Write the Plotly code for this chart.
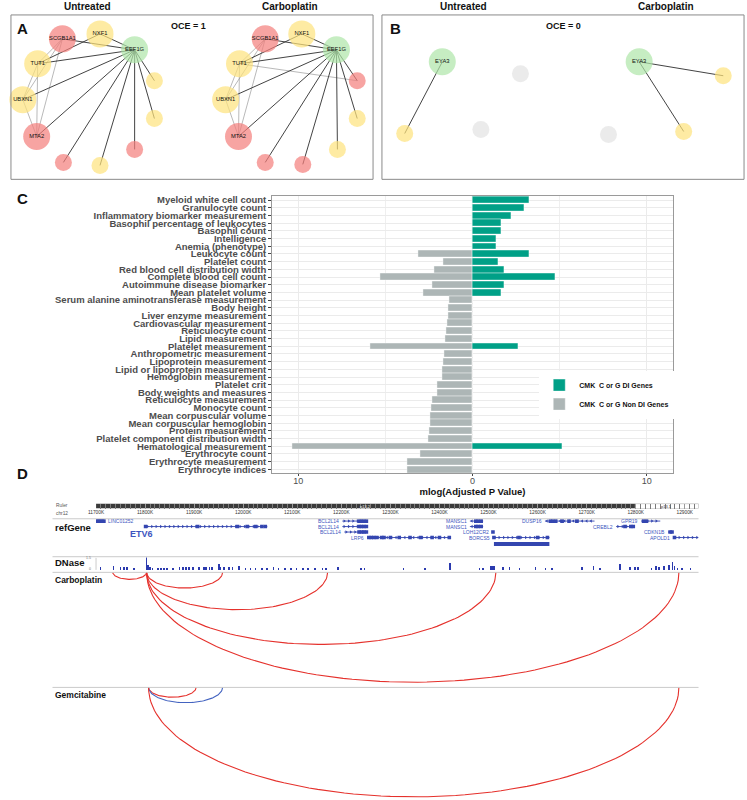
import numpy as np
import plotly.graph_objects as go

W, H = 747, 800
FONT = "Liberation Sans"


def fx(px):
    return px / W


def fy(py):
    return 1 - py / H


# ======================= DATA =======================
# ---- Panels A / B : networks (layout coordinates of nodes) ----
a_unt_labels = ["SCGB1A1", "NXF1", "EEF1G", "TUT1", "UBXN1", "MTA2", "", "", "", "", ""]
a_unt_group = ["red", "yellow", "green", "yellow", "yellow", "red", "yellow", "yellow", "red", "yellow", "red"]
a_unt_x = [55, 93, 128, 30, 15, 29, 148, 148, 128, 93, 56]
a_unt_y = [37, 32, 48, 62, 98, 135, 79, 117, 148, 164, 161]
a_unt_edges = [(2, 1), (2, 0), (2, 3), (2, 4), (2, 5), (2, 6), (2, 7), (2, 8), (2, 9), (2, 10), (3, 1)]
a_unt_weak = [(0, 3), (0, 4), (0, 5), (3, 4), (3, 5), (4, 5)]

a_carb_labels = ["SCGB1A1", "NXF1", "EEF1G", "TUT1", "UBXN1", "MTA2", "", "", "", "", ""]
a_carb_group = ["red", "yellow", "green", "yellow", "yellow", "red", "red", "yellow", "yellow", "red", "red"]
a_carb_x = [260, 297, 332, 234, 220, 233, 353, 353, 333, 298, 260]
a_carb_y = [37, 32, 48, 62, 98, 135, 79, 117, 148, 163, 161]
a_carb_edges = a_unt_edges
a_carb_weak = a_unt_weak + [(3, 6)]

b_unt_labels = ["EYA3", "", "", ""]
b_unt_group = ["green", "gray", "gray", "yellow"]
b_unt_x = [439, 518, 478, 401]
b_unt_y = [60, 72, 128, 132]
b_unt_edges = [(0, 3)]

b_carb_labels = ["EYA3", "", "", ""]
b_carb_group = ["green", "yellow", "yellow", "gray"]
b_carb_x = [638, 723, 683, 607]
b_carb_y = [60, 74, 130, 133]
b_carb_edges = [(0, 1), (0, 2)]

# ---- Panel C : trait enrichment ----
traits = [
    "Myeloid white cell count", "Granulocyte count", "Inflammatory biomarker measurement",
    "Basophil percentage of leukocytes", "Basophil count", "Intelligence", "Anemia (phenotype)",
    "Leukocyte count", "Platelet count", "Red blood cell distribution width",
    "Complete blood cell count", "Autoimmune disease biomarker", "Mean platelet volume",
    "Serum alanine aminotransferase measurement", "Body height", "Liver enzyme measurement",
    "Cardiovascular measurement", "Reticulocyte count", "Lipid measurement",
    "Platelet measurement", "Anthropometric measurement", "Lipoprotein measurement",
    "Lipid or lipoprotein measurement", "Hemoglobin measurement", "Platelet crit",
    "Body weights and measures", "Reticulocyte measurement", "Monocyte count",
    "Mean corpuscular volume", "Mean corpuscular hemoglobin", "Protein measurement",
    "Platelet component distribution width", "Hematological measurement",
    "Erythrocyte count", "Erythrocyte measurement", "Erythrocyte indices",
]
di_mlogp = [3.26, 2.97, 2.23, 1.67, 1.67, 1.35, 1.35, 3.26, 1.50, 1.80, 4.75, 1.80, 1.67,
            0, 0, 0, 0, 0, 0, 2.61, 0, 0, 0, 0, 0, 0, 0, 0, 0, 0, 0, 0, 5.13, 0, 0, 0]
nondi_mlogp = [0, 0, 0, 0, 0, 0, 0, 3.10, 1.69, 2.18, 5.30, 2.33, 2.84,
               1.33, 1.40, 1.40, 1.44, 1.53, 1.59, 5.89, 1.65, 1.67, 1.72, 1.72, 2.03,
               2.03, 2.33, 2.37, 2.41, 2.41, 2.46, 2.52, 10.36, 3.00, 3.77, 3.77]
c_xticks = [-10, 0, 10]
c_xticklabels = ["10", "0", "10"]

# ---- Panel D : genome browser (chr12, kb) ----
ruler_ticks = list(range(11700, 13000, 100))
ruler_labels = [f"{t}K" for t in ruler_ticks]
band_names = ["p13.2", "p13.1"]
band_start = [11700, 12799]
band_end = [12799, 12928]

gene_names = ["LINC01252", "ETV6", "BCL2L14", "BCL2L14", "BCL2L14", "LRP6", "MANSC1", "MANSC1",
              "LOH12CR2", "BORCS5", "DUSP16", "CREBL2", "GPR19", "CDKN1B", "APOLD1"]
gene_start = [11700, 11801, 12202, 12202, 12206, 12253, 12462, 12462, 12507, 12509, 12615, 12760, 12811, 12866, 12876]
gene_end = [11718, 12049, 12253, 12253, 12253, 12422, 12489, 12489, 12511, 12624, 12716, 12797, 12850, 12876, 12928]
gene_row = [0, 1, 0, 1, 2, 3, 0, 1, 2, 3, 0, 1, 0, 2, 3]
gene_strand = ["-", "+", "+", "+", "+", "-", "-", "-", "+", "+", "-", "+", "+", "+", "+"]
gene_exons = [
    [11701, 11704, 11707, 11710, 11713, 11716],
    [11801, 11907, 11988, 12008, 12025, 12038, 12045],
    [12236, 12241, 12246, 12251],
    [12236, 12241, 12246, 12251],
    [12236, 12241, 12246, 12251],
    [12256, 12261, 12266, 12272, 12282, 12287, 12300, 12318, 12340, 12362, 12385, 12400, 12420],
    [12474, 12479, 12485],
    [12474, 12479, 12485],
    [12509],
    [12511, 12562, 12600, 12620],
    [12626, 12631, 12637, 12650, 12664, 12680],
    [12778, 12790, 12795],
    [12816, 12822],
    [12870, 12874],
    [12879],
]
thick_start, thick_end = 12511, 12624

dnase_pos = [11709, 11736, 11750, 11757, 11763, 11777, 11803, 11806, 11810, 11815, 11826, 11833,
             11839, 11845, 11857, 11870, 11877, 11884, 11890, 11898, 11910, 11920, 11924, 11931,
             11937, 11951, 11954, 11961, 11971, 11978, 11991, 12005, 12015, 12025, 12038, 12048,
             12062, 12072, 12085, 12097, 12109, 12122, 12132, 12146, 12162, 12169, 12193, 12240,
             12247, 12327, 12371, 12421, 12482, 12489, 12505, 12509, 12512, 12529, 12543, 12563,
             12596, 12616, 12630, 12690, 12714, 12727, 12768, 12788, 12798, 12805, 12832, 12842,
             12848, 12858, 12868, 12875, 12879, 12885, 12895, 12912]
dnase_val = [0.35, 0.45, 0.35, 0.35, 0.3, 0.12, 1.45, 0.6, 0.35, 0.25, 0.25, 0.25,
             0.25, 0.25, 0.2, 0.35, 0.35, 0.35, 0.35, 0.35, 0.4, 0.4, 0.4, 0.35,
             0.4, 0.7, 0.35, 0.35, 0.35, 0.35, 0.45, 0.25, 0.25, 0.25, 0.25, 0.25,
             0.3, 0.25, 0.25, 0.25, 0.25, 0.2, 0.2, 0.2, 0.2, 0.2, 0.3, 0.25,
             0.25, 0.12, 0.12, 0.85, 0.25, 0.25, 0.45, 0.45, 0.45, 0.3, 0.3, 0.12,
             0.35, 0.25, 0.25, 0.35, 0.45, 0.18, 0.7, 0.35, 0.35, 0.35, 0.25, 0.45,
             0.35, 0.45, 0.6, 0.95, 0.45, 0.25, 0.18, 0.12]

carbo_arc_start = [11734, 11803, 11803, 11803, 11803]
carbo_arc_end = [11803, 11958, 12172, 12515, 12888]
carbo_arc_kind = ["red", "red", "red", "red", "red"]
gem_arc_start = [11807, 11807, 11807]
gem_arc_end = [11904, 11958, 12888]
gem_arc_kind = ["red", "blue", "red"]

# ======================= STYLE =======================
NODE_COL = {"red": "#F37D7B", "yellow": "#FDE27C", "green": "#AEE6A8", "gray": "#E3E3E3"}
ARC_COL = {"red": "#E5312C", "blue": "#4363C0"}
GREEN = "#00A087"
GRAY = "#ADB6B6"
GENE_BLUE = "#3446B0"

fig = go.Figure()


# ---------- networks ----------
def add_network(labels, groups, xs, ys, strong, weak):
    for edges, col, wd in ((weak, "#8a8a8a", 0.6), (strong, "#2e2e2e", 0.9)):
        ex, ey = [], []
        for i, j in edges:
            ex += [xs[i], xs[j], None]
            ey += [ys[i], ys[j], None]
        if ex:
            fig.add_trace(go.Scatter(x=ex, y=ey, mode="lines", line=dict(color=col, width=wd),
                                     xaxis="x", yaxis="y", showlegend=False, hoverinfo="skip"))
    fig.add_trace(go.Scatter(
        x=xs, y=ys, mode="markers+text", text=labels, textposition="middle center",
        textfont=dict(size=5.8, color="#111", family=FONT),
        marker=dict(size=[27 if l else 17 for l in labels], color=[NODE_COL[g] for g in groups],
                    line=dict(width=0)),
        xaxis="x", yaxis="y", showlegend=False, hoverinfo="skip"))


add_network(a_unt_labels, a_unt_group, a_unt_x, a_unt_y, a_unt_edges, a_unt_weak)
add_network(a_carb_labels, a_carb_group, a_carb_x, a_carb_y, a_carb_edges, a_carb_weak)
add_network(b_unt_labels, b_unt_group, b_unt_x, b_unt_y, b_unt_edges, [])
add_network(b_carb_labels, b_carb_group, b_carb_x, b_carb_y, b_carb_edges, [])

# ---------- panel C bars ----------
fig.add_trace(go.Bar(y=traits, x=di_mlogp, orientation="h", name="CMK\u00a0 C or G DI Genes",
                     marker=dict(color=GREEN, line=dict(color="white", width=0.4)), width=0.9,
                     xaxis="x2", yaxis="y2", hoverinfo="skip"))
fig.add_trace(go.Bar(y=traits, x=[-v for v in nondi_mlogp], orientation="h",
                     name="CMK\u00a0 C or G Non DI Genes",
                     marker=dict(color=GRAY, line=dict(color="white", width=0.4)), width=0.9,
                     xaxis="x2", yaxis="y2", hoverinfo="skip"))

# ---------- panel D ----------
fig.add_trace(go.Scatter(x=[band_start[0], band_end[-1]], y=[0.5, 0.5], mode="markers",
                         marker=dict(size=1, color="rgba(0,0,0,0)"), xaxis="x4", yaxis="y3",
                         showlegend=False, hoverinfo="skip"))

for name, s, e, r, st, ex in zip(gene_names, gene_start, gene_end, gene_row, gene_strand, gene_exons):
    fig.add_trace(go.Scatter(x=[s, e], y=[r, r], mode="lines", line=dict(color=GENE_BLUE, width=0.9),
                             xaxis="x3", yaxis="y4", showlegend=False, hoverinfo="skip"))
    if e - s > 12:
        cx = list(np.arange(s + 4, e - 2, 9))
        fig.add_trace(go.Scatter(x=cx, y=[r] * len(cx), mode="markers",
                                 marker=dict(symbol="triangle-right" if st == "+" else "triangle-left",
                                             size=3, color=GENE_BLUE),
                                 xaxis="x3", yaxis="y4", showlegend=False, hoverinfo="skip"))
    fig.add_trace(go.Scatter(x=ex, y=[r] * len(ex), mode="markers",
                             marker=dict(symbol="square", size=3.6, color=GENE_BLUE),
                             xaxis="x3", yaxis="y4", showlegend=False, hoverinfo="skip"))
fig.add_trace(go.Scatter(x=[thick_start, thick_end], y=[4.2, 4.2], mode="lines",
                         line=dict(color=GENE_BLUE, width=4), xaxis="x3", yaxis="y4",
                         showlegend=False, hoverinfo="skip"))

fig.add_trace(go.Bar(x=dnase_pos, y=dnase_val, width=1.3, marker=dict(color="#2B3AAE", line=dict(width=0)),
                     xaxis="x3", yaxis="y5", showlegend=False, hoverinfo="skip"))


def add_arcs(starts, ends, kinds, yax):
    t = np.linspace(0, np.pi, 90)
    for s, e, k in zip(starts, ends, kinds):
        c, a = (s + e) / 2, (e - s) / 2
        fig.add_trace(go.Scatter(x=c + a * np.cos(t), y=-0.41 * a * np.sin(t), mode="lines",
                                 line=dict(color=ARC_COL[k], width=1.1), xaxis="x3", yaxis=yax,
                                 showlegend=False, hoverinfo="skip"))


add_arcs(carbo_arc_start, carbo_arc_end, carbo_arc_kind, "y6")
add_arcs(gem_arc_start, gem_arc_end, gem_arc_kind, "y7")

# ======================= LAYOUT =======================
hidden = dict(visible=False, showgrid=False, zeroline=False)
gx0, gx1 = fx(89), fx(698)
grange = [11700, 12928]

layout = dict(
    width=W, height=H, autosize=False, margin=dict(l=0, r=0, t=0, b=0),
    paper_bgcolor="white", plot_bgcolor="rgba(0,0,0,0)",
    font=dict(family=FONT, color="#222"),
    barmode="overlay", bargap=0,
    xaxis=dict(domain=[0, 1], range=[0, W], anchor="y", **hidden),
    yaxis=dict(domain=[fy(182), 1], range=[182, 0], anchor="x", **hidden),
    xaxis2=dict(domain=[fx(267), fx(672)], anchor="y2", range=[-11.5, 11.5],
                tickmode="array", tickvals=c_xticks, ticktext=c_xticklabels,
                tickfont=dict(size=9, color="#4D4D4D"), ticks="outside", ticklen=2, tickcolor="#444",
                ticklabelstandoff=-3,
                showgrid=True, gridcolor="#EBEBEB", gridwidth=0.8,
                minor=dict(tickvals=[-5, 5], showgrid=True, gridcolor="#EFEFEF", gridwidth=0.5, ticks=""),
                zeroline=False, showline=True, mirror=True, linecolor="#9a9a9a", linewidth=1,
                title=dict(text="mlog(Adjusted P Value)", standoff=0,
                           font=dict(size=9.5, color="#111", weight="bold"))),
    yaxis2=dict(domain=[fy(473), fy(195)], anchor="x2", categoryorder="array", categoryarray=traits,
                tickmode="array", tickvals=traits, ticktext=traits,
                autorange="reversed", tickfont=dict(size=9.5, color="#4D4D4D", weight="bold"),
                ticks="outside", ticklen=3, tickcolor="#444", showgrid=True, gridcolor="#EBEBEB",
                gridwidth=0.8, zeroline=False, showline=True, mirror=True, linecolor="#9a9a9a",
                linewidth=1),
    xaxis3=dict(domain=[gx0, gx1], range=grange, anchor="y4", **hidden),
    xaxis4=dict(domain=[gx0, gx1], range=grange, anchor="y3", tickmode="array", tickvals=ruler_ticks,
                ticktext=ruler_labels, tickfont=dict(size=4.8, color="#333"), ticks="", ticklen=0,
                showgrid=True, gridcolor="#9a9a9a", gridwidth=0.8, zeroline=False, showline=False,
                minor=dict(tickmode="linear", tick0=11700, dtick=10, showgrid=True,
                           gridcolor="#7a7a7a", gridwidth=0.5)),
    yaxis3=dict(domain=[fy(508.5), fy(503.5)], range=[0, 1], anchor="x4", **hidden),
    yaxis4=dict(domain=[fy(548), fy(518)], range=[4.9, -0.55], anchor="x3", **hidden),
    yaxis5=dict(domain=[fy(570.5), fy(557.5)], range=[0, 1.5], anchor="x3", **hidden),
    yaxis6=dict(domain=[fy(688), fy(572.5)], range=[-233, 0], anchor="x3", **hidden),
    yaxis7=dict(domain=[0, fy(688)], range=[-226, 0], anchor="x3", **hidden),
    legend=dict(x=fx(537), y=fy(370), xanchor="left", yanchor="top", bgcolor="white",
                font=dict(size=7, color="#111", weight="bold"), tracegroupgap=0,
                borderwidth=0, itemclick=False),
)
fig.update_layout(**layout)

shapes = []
for x0, x1 in ((3, 369), (378, 744)):
    shapes.append(dict(type="rect", xref="paper", yref="paper", x0=fx(x0), x1=fx(x1), y0=fy(178), y1=fy(13),
                       line=dict(color="#8a8a8a", width=1), fillcolor="rgba(0,0,0,0)"))
shapes.append(dict(type="rect", xref="x4", yref="y3", x0=band_start[0], x1=band_end[0], y0=0, y1=1,
                   fillcolor="#3a3a3a", line=dict(width=0), layer="below"))
shapes.append(dict(type="rect", xref="x4", yref="y3", x0=band_start[1], x1=band_end[1], y0=0, y1=1,
                   fillcolor="white", line=dict(color="#999", width=0.8), layer="below"))
for yy in (518.7, 556.8, 572.5, 688):
    shapes.append(dict(type="line", xref="paper", yref="paper", x0=fx(45), x1=fx(698), y0=fy(yy), y1=fy(yy),
                       line=dict(color="#c4c4c4", width=0.9)))
shapes.append(dict(type="line", xref="paper", yref="paper", x0=fx(89), x1=fx(89), y0=fy(570), y1=fy(558),
                   line=dict(color="#aaa", width=0.6)))
fig.update_layout(shapes=shapes)

ann = []


def txt(x, y, s, size, bold=False, color="#111", xanchor="center"):
    ann.append(dict(x=fx(x), y=fy(y), xref="paper", yref="paper", text=s, showarrow=False,
                    xanchor=xanchor, yanchor="middle",
                    font=dict(size=size, color=color, family=FONT, weight="bold" if bold else "normal")))


txt(80, 5, "Untreated", 10, True)
txt(285, 5, "Carboplatin", 10, True)
txt(460, 5, "Untreated", 10, True)
txt(665, 5, "Carboplatin", 10, True)
txt(182, 24, "OCE = 1", 9, True)
txt(562, 24, "OCE = 0", 9, True)
txt(15, 27, "A", 15, True)
txt(392, 27, "B", 15, True)
txt(15, 197, "C", 15, True)
txt(15, 473, "D", 15, True)
txt(46, 505, "Ruler", 4.8, False, "#555", "left")
txt(46, 513, "chr12", 4.8, False, "#555", "left")
txt(45, 527, "refGene", 9.5, True, "#111", "left")
txt(45, 563, "DNase", 9.5, True, "#111", "left")
txt(45, 580, "Carboplatin", 8.5, True, "#111", "left")
txt(45, 696, "Gemcitabine", 8.5, True, "#111", "left")
txt(86, 558.5, "1.5", 3.5, False, "#777", "right")
txt(86, 569, "0", 3.5, False, "#777", "right")
fig.update_layout(annotations=ann)

fig.add_annotation(x=12250, y=0.5, xref="x4", yref="y3", text=band_names[0], showarrow=False,
                   font=dict(size=4, color="#eee", family=FONT))
fig.add_annotation(x=(band_start[1] + band_end[1]) / 2, y=0.5, xref="x4", yref="y3", text=band_names[1],
                   showarrow=False, font=dict(size=4, color="#333", family=FONT))

for name, s, e, r in zip(gene_names, gene_start, gene_end, gene_row):
    if name == "ETV6":
        fig.add_annotation(x=s - 8, y=2.35, xref="x3", yref="y4", text=name, showarrow=False,
                           font=dict(size=9, color="#3D55C0", family=FONT, weight="bold"))
    elif name == "LINC01252":
        fig.add_annotation(x=e + 2, y=r, xref="x3", yref="y4", text=name, showarrow=False, xanchor="left",
                           font=dict(size=5, color="#3D55C0", family=FONT))
    else:
        fig.add_annotation(x=s - 2, y=r, xref="x3", yref="y4", text=name, showarrow=False, xanchor="right",
                           font=dict(size=5, color="#3D55C0", family=FONT))

fig.write_html("out.html", config={"displayModeBar": False},
               post_script="document.body.style.margin='0';document.body.style.overflow='hidden';")
